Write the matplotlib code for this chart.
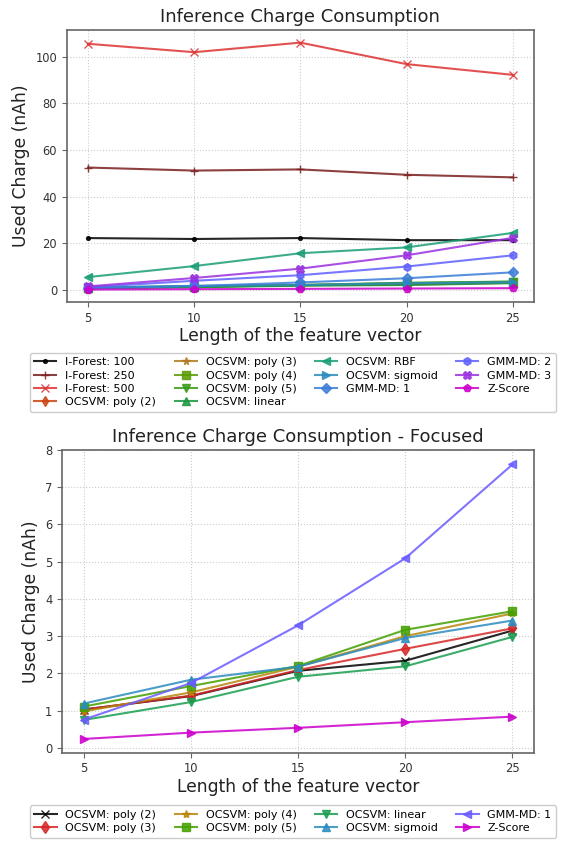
import matplotlib
matplotlib.use("Agg")
import matplotlib.pyplot as plt

x_len = [5, 10, 15, 20, 25]

# ---- top chart data ----
top_labels = ["I-Forest: 100", "I-Forest: 250", "I-Forest: 500",
              "OCSVM: poly (2)", "OCSVM: poly (3)", "OCSVM: poly (4)",
              "OCSVM: poly (5)", "OCSVM: linear", "OCSVM: RBF",
              "OCSVM: sigmoid", "GMM-MD: 1", "GMM-MD: 2", "GMM-MD: 3", "Z-Score"]
iforest_100 = [22.3, 21.9, 22.3, 21.4, 21.4]
iforest_250 = [52.5, 51.2, 51.7, 49.4, 48.3]
iforest_500 = [105.5, 101.9, 106.0, 96.8, 92.2]
poly2 = [1.03, 1.39, 2.07, 2.34, 3.15]
poly3 = [1.03, 1.40, 2.09, 2.66, 3.21]
poly4 = [0.98, 1.49, 2.18, 3.00, 3.61]
poly5 = [1.11, 1.66, 2.20, 3.17, 3.67]
linear = [0.75, 1.23, 1.91, 2.19, 2.98]
rbf = [5.6, 10.3, 15.8, 18.3, 24.5]
sigmoid = [1.19, 1.83, 2.18, 2.95, 3.42]
gmm1 = [0.76, 1.74, 3.29, 5.09, 7.61]
gmm2 = [1.3, 4.0, 6.4, 10.1, 14.9]
gmm3 = [1.6, 5.2, 9.2, 14.9, 22.4]
zscore = [0.24, 0.41, 0.54, 0.69, 0.84]

top_series = [iforest_100, iforest_250, iforest_500, poly2, poly3, poly4, poly5,
              linear, rbf, sigmoid, gmm1, gmm2, gmm3, zscore]
top_colors = ["#000000", "#7a1e1e", "#dd3333", "#cc4411", "#b07a20", "#5a9a00",
              "#3a9a1a", "#1a9641", "#1b9e77", "#2b8cbe", "#3b7dd8", "#6060ff",
              "#9b30e0", "#cc00cc"]
top_markers = [".", "+", "x", "d", "*", "s", "v", "^", "<", ">", "D", "h", "X", "p"]

# ---- bottom chart data ----
bot_labels = ["OCSVM: poly (2)", "OCSVM: poly (3)", "OCSVM: poly (4)",
              "OCSVM: poly (5)", "OCSVM: linear", "OCSVM: sigmoid",
              "GMM-MD: 1", "Z-Score"]
bot_series = [poly2, poly3, poly4, poly5, linear, sigmoid, gmm1, zscore]
bot_colors = ["#000000", "#d62728", "#b8860b", "#44a000", "#1a9e50", "#2b8cbe",
              "#6a5cff", "#cc00cc"]
bot_markers = ["x", "d", "*", "s", "v", "^", "<", ">"]

fig = plt.figure(figsize=(5.71, 8.41), dpi=100)

def style(ax):
    for s in ax.spines.values():
        s.set_color("#666666")
        s.set_linewidth(1.2)
    ax.grid(True, linestyle=":", color="#cccccc", linewidth=0.8)
    ax.tick_params(labelsize=8.3, colors="#333333", length=3.5, color="#666666")
    ax.set_xticks(x_len)

ax1 = fig.add_axes([0.117, 0.641, 0.818, 0.323])
handles = []
for vals, lab, c, m in zip(top_series, top_labels, top_colors, top_markers):
    h, = ax1.plot(x_len, vals, color=c, marker=m, markersize=5.5, linewidth=1.5,
                  alpha=0.85, label=lab)
    handles.append(h)
style(ax1)
ax1.set_title("Inference Charge Consumption", fontsize=13, color="#222222")
ax1.set_xlabel("Length of the feature vector", fontsize=12.3, color="#222222",
               labelpad=2)
ax1.set_ylabel("Used Charge (nAh)", fontsize=12.3, color="#222222")
fig.legend(handles=handles, loc="upper center", bbox_to_anchor=(0.513, 0.587),
           ncol=4, fontsize=8, framealpha=1, edgecolor="#cccccc",
           handlelength=2, columnspacing=1.65, labelspacing=0.3)

ax2 = fig.add_axes([0.109, 0.105, 0.826, 0.360])
handles2 = []
for vals, lab, c, m in zip(bot_series, bot_labels, bot_colors, bot_markers):
    h, = ax2.plot(x_len, vals, color=c, marker=m, markersize=6, linewidth=1.5,
                  alpha=0.85, label=lab)
    handles2.append(h)
style(ax2)
ax2.set_ylim(top=8)
ax2.set_title("Inference Charge Consumption - Focused", fontsize=13, color="#222222")
ax2.set_xlabel("Length of the feature vector", fontsize=12.3, color="#222222",
               labelpad=2)
ax2.set_ylabel("Used Charge (nAh)", fontsize=12.3, color="#222222")
fig.legend(handles=handles2, loc="upper center", bbox_to_anchor=(0.513, 0.049),
           ncol=4, fontsize=8, framealpha=1, edgecolor="#cccccc",
           handlelength=2, columnspacing=1.65, labelspacing=0.3)

fig.savefig("out.png", dpi=100)
